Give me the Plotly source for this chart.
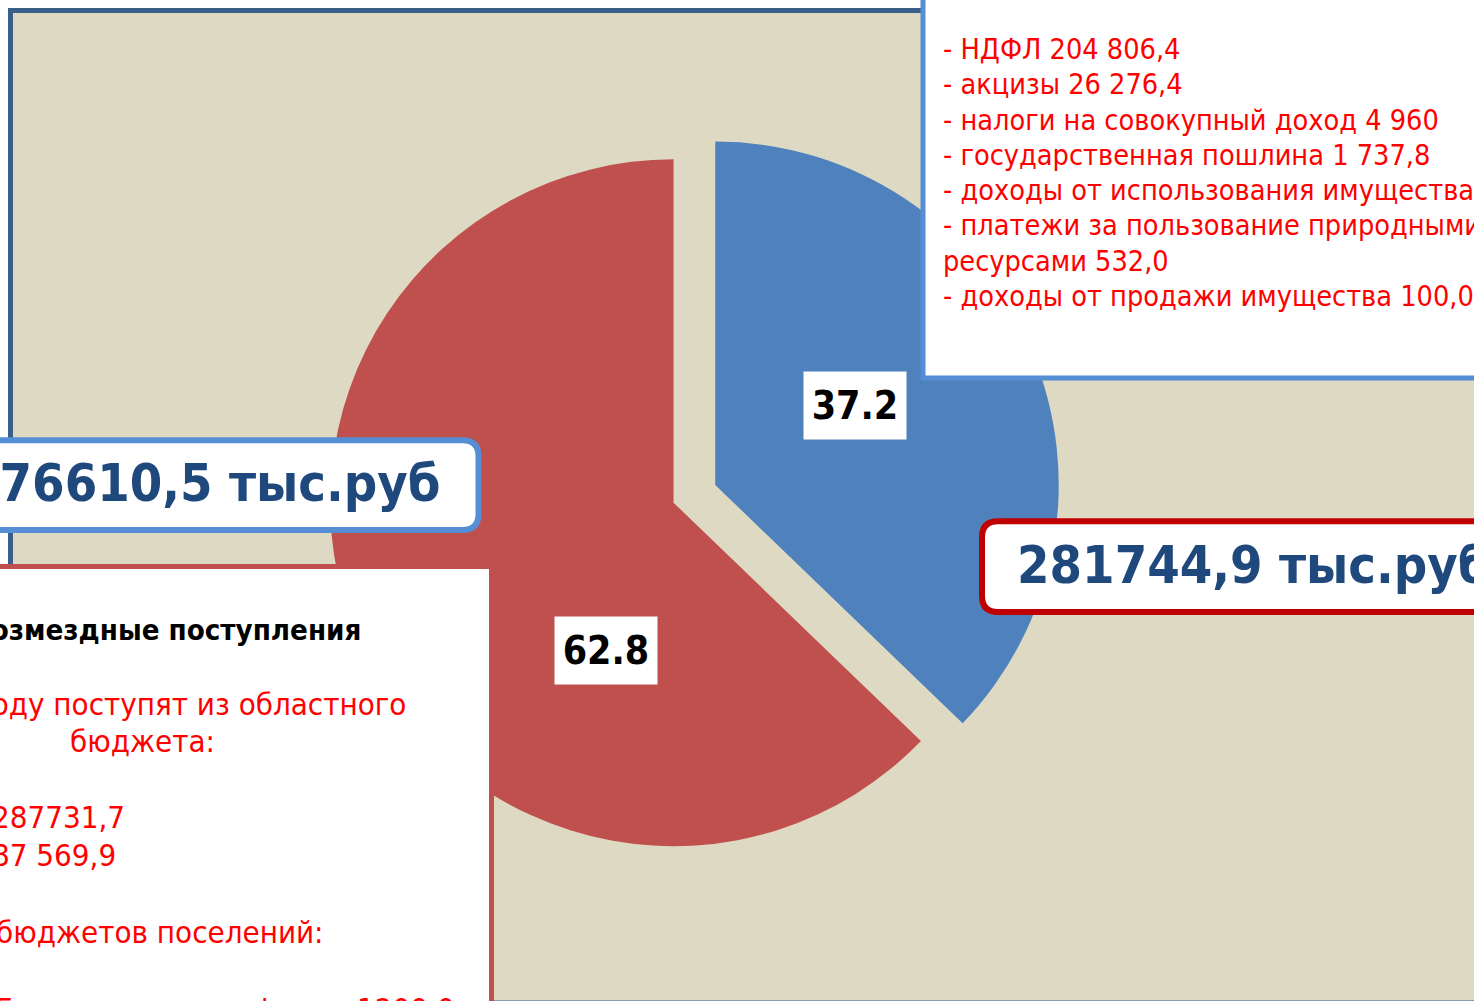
import plotly.graph_objects as go

W, H = 1474, 1001

# ---- data ----
categories = ["Собственные доходы", "Безвозмездные поступления"]
shares = [37.2, 62.8]
slice_colors = ["#4f81bd", "#c0504d"]
total_own = "281744,9 тыс.руб"
total_transfers = "476610,5 тыс.руб"
own_lines = [
    "- НДФЛ 204 806,4",
    "- акцизы 26 276,4",
    "- налоги на совокупный доход 4 960",
    "- государственная пошлина 1 737,8",
    "- доходы от использования имущества",
    "- платежи за пользование природными",
    "ресурсами 532,0",
    "- доходы от продажи имущества 100,0",
]
transfer_title = "Безвозмездные поступления"
transfer_lines = [
    "году поступят из областного",
    "бюджета:",
    "287731,7",
    "87 569,9",
    "бюджетов поселений:",
    "Безвозмездно из фонда 1200,0",
]

FONT = "DejaVu Sans Condensed, DejaVu Sans, sans-serif"


def X(px):
    return px / W


def Y(py):
    return 1 - py / H


def rrect(x0, y0, x1, y1, r):
    return (f"M {X(x0 + r)},{Y(y0)} L {X(x1 - r)},{Y(y0)} Q {X(x1)},{Y(y0)} {X(x1)},{Y(y0 + r)} "
            f"L {X(x1)},{Y(y1 - r)} Q {X(x1)},{Y(y1)} {X(x1 - r)},{Y(y1)} "
            f"L {X(x0 + r)},{Y(y1)} Q {X(x0)},{Y(y1)} {X(x0)},{Y(y1 - r)} "
            f"L {X(x0)},{Y(y0 + r)} Q {X(x0)},{Y(y0)} {X(x0 + r)},{Y(y0)} Z")


fig = go.Figure()
fig.add_trace(go.Pie(
    labels=categories,
    values=shares,
    sort=False,
    direction="clockwise",
    rotation=0,
    pull=[0.066, 0.066],
    marker=dict(colors=slice_colors, line=dict(width=0)),
    textinfo="none",
    hoverinfo="skip",
    showlegend=False,
    domain=dict(x=[0.2227, 0.7195], y=[0.1409, 0.8724]),
))

shapes = [
    # beige slide background with dark blue frame
    dict(type="rect", xref="paper", yref="paper", layer="below",
         x0=X(10.5), y0=Y(10.5), x1=X(1500), y1=Y(1003),
         fillcolor="#ddd9c3", line=dict(color="#3a5f8b", width=5)),
    # top-right text box
    dict(type="rect", xref="paper", yref="paper", layer="above",
         x0=X(923), y0=Y(-20), x1=X(1500), y1=Y(378),
         fillcolor="white", line=dict(color="#558ed5", width=5)),
    # bottom-left text box
    dict(type="rect", xref="paper", yref="paper", layer="above",
         x0=X(-20), y0=Y(566.5), x1=X(491.5), y1=Y(1030),
         fillcolor="white", line=dict(color="#c0504d", width=5)),
    # left total box
    dict(type="path", xref="paper", yref="paper", layer="above",
         path=rrect(-40, 440.3, 478.5, 530, 16),
         fillcolor="white", line=dict(color="#558ed5", width=6)),
    # right total box
    dict(type="path", xref="paper", yref="paper", layer="above",
         path=rrect(982, 521.3, 1520, 612, 16),
         fillcolor="white", line=dict(color="#c00000", width=6)),
]

ann = []
# percentage labels
label_pos = [(855, 405.4), (606, 650)]
for v, (px, py) in zip(shares, label_pos):
    ann.append(dict(xref="paper", yref="paper", x=X(px), y=Y(py), showarrow=False,
                    text=f"{v:.1f}", width=102, height=67, bgcolor="white", borderpad=0,
                    xanchor="center", yanchor="middle",
                    font=dict(family=FONT, size=39, color="black", weight="bold")))

# totals
ann.append(dict(xref="paper", yref="paper", x=X(1015), y=Y(565), showarrow=False,
                text=total_own, xanchor="left", yanchor="middle",
                font=dict(family=FONT, size=52, color="#1f497d", weight="bold")))
ann.append(dict(xref="paper", yref="paper", x=X(442), y=Y(483), showarrow=False,
                text=total_transfers, xanchor="right", yanchor="middle",
                font=dict(family=FONT, size=52, color="#1f497d", weight="bold")))

# own revenue list
for i, t in enumerate(own_lines):
    ann.append(dict(xref="paper", yref="paper", x=X(941), y=Y(49 + 35.3 * i), showarrow=False,
                    text=t, xanchor="left", yanchor="middle",
                    font=dict(family=FONT, size=28.6, color="#ff0000")))

# transfers list
ann.append(dict(xref="paper", yref="paper", x=X(363), y=Y(630), showarrow=False,
                text=transfer_title, xanchor="right", yanchor="middle",
                font=dict(family=FONT, size=29.2, color="black", weight="bold")))
tl_pos = [("right", 408, 704), ("left", 68, 741), ("right", 127, 817),
          ("right", 118, 855), ("right", 326, 932), ("right", 457, 1009)]
for t, (anc, px, py) in zip(transfer_lines, tl_pos):
    ann.append(dict(xref="paper", yref="paper", x=X(px), y=Y(py), showarrow=False,
                    text=t, xanchor=anc, yanchor="middle",
                    font=dict(family=FONT, size=31, color="#ff0000")))

fig.update_layout(
    width=W, height=H, autosize=False,
    margin=dict(l=0, r=0, t=0, b=0, pad=0),
    paper_bgcolor="white", plot_bgcolor="white",
    shapes=shapes, annotations=ann, showlegend=False,
)

fig.write_html("out.html", config={"displayModeBar": False},
               post_script="document.body.style.margin='0';document.body.style.overflow='hidden';")
